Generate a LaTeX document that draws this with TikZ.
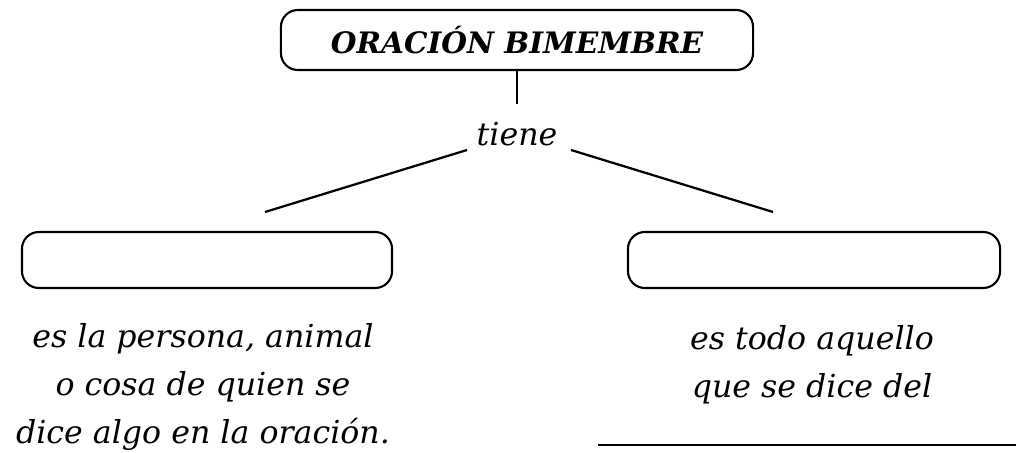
\documentclass[tikz,border=0pt]{standalone}
\usepackage{fontspec}
\setmainfont{DejaVu Serif}
\usetikzlibrary{positioning}

\tikzset{
  mapbox/.style={draw, line width=1.5pt, rounded corners=12pt, inner sep=0pt},
  link/.style={line width=1.6pt},
  gloss/.style={font=\itshape\fontsize{22.5}{34}\selectfont, align=center, inner sep=0pt, anchor=base}
}

\begin{document}
\begin{tikzpicture}[x=0.025cm, y=-0.025cm]
  \useasboundingbox (0,0) rectangle (1019,453);

  % title and verb
  \node[mapbox, minimum width=11.8cm, minimum height=1.5cm] (ora) at (517,40)
    {\bfseries\itshape\fontsize{21}{25}\selectfont ORACIÓN BIMEMBRE};
  \node[font=\itshape\fontsize{22.5}{26}\selectfont, inner sep=0pt, anchor=base] (tiene) at (517,145) {tiene};

  % empty boxes
  \node[mapbox, minimum width=9.25cm, minimum height=1.4cm] (suj) at (207,260) {};
  \node[mapbox, minimum width=9.3cm, minimum height=1.4cm] (pred) at (814,260) {};

  \coordinate (sujtop) at (265,212);
  \coordinate (predtop) at (773,212);
  \coordinate (tl) at (467,150);
  \coordinate (tr) at (571,150);

  \draw[link] (ora.south) -- (517,104);
  \draw[link] (tl) -- (sujtop);
  \draw[link] (tr) -- (predtop);

  % definitions (anchored at the last line)
  \node[gloss] (sujtxt) at (203,443) {es la persona, animal\\o cosa de quien se\\dice algo en la oración.};
  \node[gloss] (predtxt) at (812,397) {es todo aquello\\que se dice del};

  \coordinate (blankl) at (598,445);
  \coordinate (blankr) at (1016,445);
  \draw[line width=1.3pt] (blankl) -- (blankr);
\end{tikzpicture}
\end{document}
